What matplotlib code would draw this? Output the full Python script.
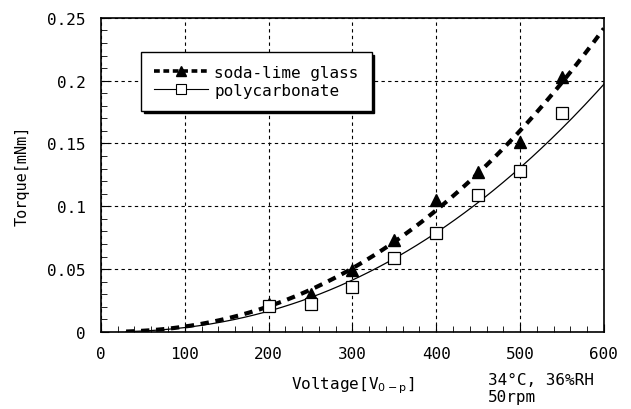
import numpy as np
import matplotlib.pyplot as plt

# data
voltage = [200, 250, 300, 350, 400, 450, 500, 550]
torque_glass = [0.022, 0.030, 0.049, 0.073, 0.105, 0.127, 0.151, 0.203]
torque_pc = [0.021, 0.022, 0.036, 0.059, 0.079, 0.109, 0.128, 0.174]

x_ticks = [0, 100, 200, 300, 400, 500, 600]
y_ticks = [0, 0.05, 0.1, 0.15, 0.2, 0.25]
y_ticklabels = ["0", "0.05", "0.1", "0.15", "0.2", "0.25"]

plt.rcParams["font.family"] = ["DejaVu Sans Mono", "Noto Sans CJK JP"]
plt.rcParams["font.size"] = 11


def power_fit(x, y, xs):
    # power-law trendline fitted to the points
    b, log_a = np.polyfit(np.log(x), np.log(y), 1)
    return np.exp(log_a) * xs ** b


fig = plt.figure(figsize=(6.31, 4.10), dpi=100)
ax = fig.add_axes([0.160, 0.188, 0.797, 0.766])

xs = np.linspace(30, 600, 200)
ax.plot(xs, power_fit(voltage, torque_glass, xs), color="black",
        linestyle=(0, (2, 1.6)), linewidth=3)
ax.plot(xs, power_fit(voltage, torque_pc, xs), color="black", linewidth=0.9)

ax.plot(voltage, torque_glass, linestyle="none", marker="^", color="black",
        markersize=8)
ax.plot(voltage, torque_pc, linestyle="none", marker="s", color="black",
        markerfacecolor="white", markeredgewidth=0.9, markersize=9)

# legend proxies
h1, = ax.plot([], [], color="black", linestyle=(0, (1.6, 1.0)), linewidth=2.6,
              marker="^", markersize=7)
h2, = ax.plot([], [], color="black", linewidth=0.8, marker="s",
              markerfacecolor="white", markeredgewidth=0.8, markersize=7)
leg = ax.legend([h1, h2], ["soda-lime glass", "polycarbonate"],
                loc="upper left", bbox_to_anchor=(0.0795, 0.892),
                borderaxespad=0, fancybox=False, framealpha=1,
                edgecolor="black", handlelength=3.4, handletextpad=0.4,
                labelspacing=0.2, borderpad=0.8, fontsize=11.5,
                shadow={"color": "black", "alpha": 1, "ox": 2, "oy": -2})
leg.get_frame().set_linewidth(1.0)

ax.set_xlim(0, 600)
ax.set_ylim(0, 0.25)
ax.set_xticks(x_ticks)
ax.set_yticks(y_ticks)
ax.set_yticklabels(y_ticklabels)
ax.set_xticks(np.arange(0, 601, 20), minor=True)
ax.set_yticks(np.arange(0, 0.251, 0.01), minor=True)
ax.tick_params(which="both", direction="in", top=False, right=False)
ax.tick_params(which="major", length=6, labelsize=11.5)
ax.tick_params(axis="x", which="major", pad=10)
ax.tick_params(axis="y", which="major", pad=11)
ax.tick_params(which="minor", length=4)

ax.grid(True, which="major", color="black", linestyle=(0, (3, 3)),
        linewidth=0.8)
ax.set_axisbelow(True)
for sp in ax.spines.values():
    sp.set_linewidth(1.2)

ax.set_xlabel("Voltage[V$_{\\mathrm{0-p}}$]", fontsize=11.5, labelpad=10)
ax.set_ylabel("Torque[mNm]", fontsize=11, labelpad=13)
fig.text(0.773, 0.09, "34°C, 36%RH\n50rpm", fontsize=11.5,
         linespacing=1.2, ha="left", va="top")

fig.savefig("out.png", dpi=100)
